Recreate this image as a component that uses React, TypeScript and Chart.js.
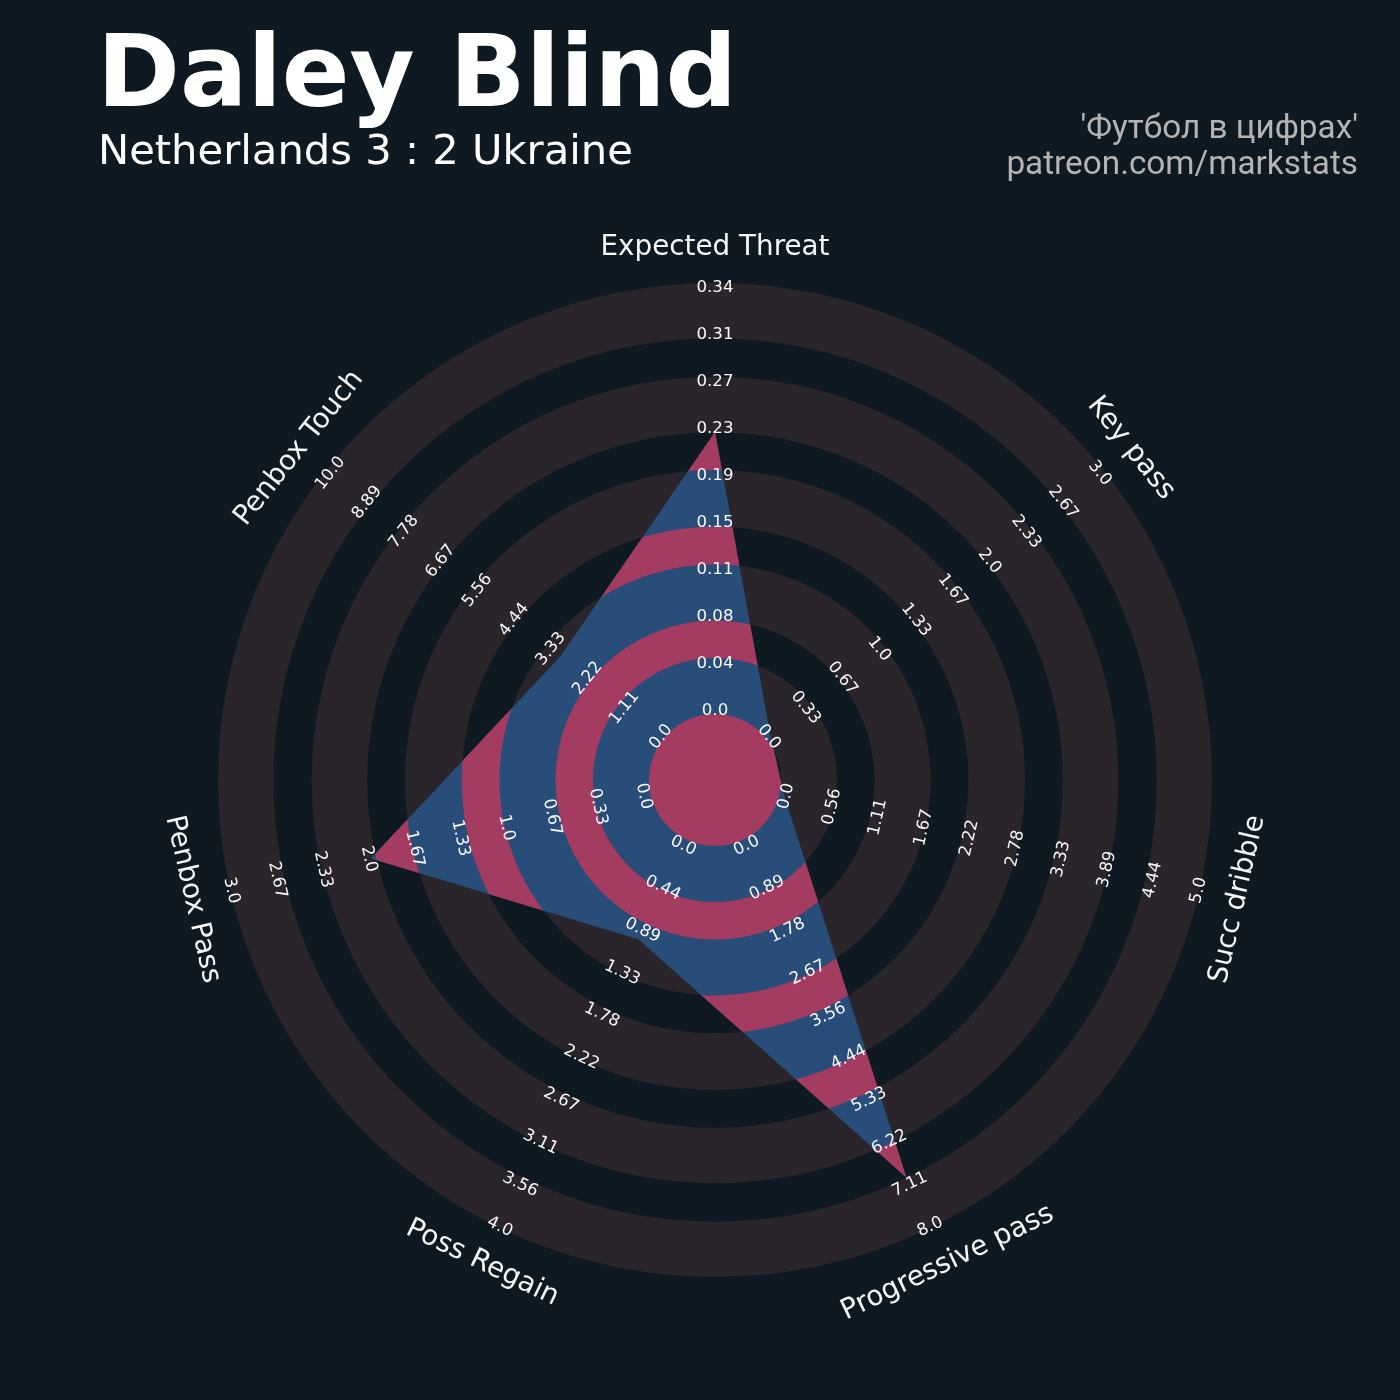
import { useEffect, useRef } from "react";
import { Chart, registerables } from "chart.js";

Chart.register(...registerables);

// ---- data ----
const PARAMS = [
  "Expected Threat",
  "Key pass",
  "Succ dribble",
  "Progressive pass",
  "Poss Regain",
  "Penbox Pass",
  "Penbox Touch",
];
const VALUES = [0.226, 0, 0, 7, 1, 2, 3];
const RANGE_MAX = [0.345, 3, 5, 8, 4, 3, 10];

const TICKS_XT = ["0.0", "0.04", "0.08", "0.11", "0.15", "0.19", "0.23", "0.27", "0.31", "0.34"];
const TICKS_KEY_PASS = ["0.0", "0.33", "0.67", "1.0", "1.33", "1.67", "2.0", "2.33", "2.67", "3.0"];
const TICKS_DRIBBLE = ["0.0", "0.56", "1.11", "1.67", "2.22", "2.78", "3.33", "3.89", "4.44", "5.0"];
const TICKS_PROG_PASS = ["0.0", "0.89", "1.78", "2.67", "3.56", "4.44", "5.33", "6.22", "7.11", "8.0"];
const TICKS_REGAIN = ["0.0", "0.44", "0.89", "1.33", "1.78", "2.22", "2.67", "3.11", "3.56", "4.0"];
const TICKS_PENBOX_PASS = ["0.0", "0.33", "0.67", "1.0", "1.33", "1.67", "2.0", "2.33", "2.67", "3.0"];
const TICKS_PENBOX_TOUCH = ["0.0", "1.11", "2.22", "3.33", "4.44", "5.56", "6.67", "7.78", "8.89", "10.0"];
const TICK_LABELS = [
  TICKS_XT,
  TICKS_KEY_PASS,
  TICKS_DRIBBLE,
  TICKS_PROG_PASS,
  TICKS_REGAIN,
  TICKS_PENBOX_PASS,
  TICKS_PENBOX_TOUCH,
];

const PLAYER = "Daley Blind";
const MATCH = "Netherlands 3 : 2 Ukraine";
const CREDIT_1 = "'Футбол в цифрах'";
const CREDIT_2 = "patreon.com/markstats";

// ---- style ----
const BG = "#0E1921";
const RING_LIGHT = "#29252B";
const BLUE = "#274D78";
const PINK = "#A43B60";
const TEXT = "#F8F8F8";
const CREDIT_COLOR = "#B4B4B4";
const FONT = '"DejaVu Sans"';

// radial scale range: normalised values 0..1 sit between the centre hole and the rim
const SCALE_MIN = -0.16784;
const SCALE_MAX = 1.00706;
// concentric band edges, as a share of the outer radius
const RING_EDGES = [66, 122, 159.5, 215.5, 253.3, 310, 347.8, 403.3, 441.7, 497].map((v) => v / 497);

function annulus(ctx: CanvasRenderingContext2D, cx: number, cy: number, r1: number, r2: number) {
  ctx.beginPath();
  ctx.arc(cx, cy, r2, 0, Math.PI * 2);
  if (r1 > 0) {
    ctx.moveTo(cx + r1, cy);
    ctx.arc(cx, cy, r1, 0, Math.PI * 2, true);
  }
  ctx.fill("evenodd");
}

const radarDecor = {
  id: "radarDecor",
  beforeDatasetsDraw(chart: any) {
    const s = chart.scales.r;
    const ctx: CanvasRenderingContext2D = chart.ctx;
    const cx = s.xCenter;
    const cy = s.yCenter;
    const R = s.drawingArea;
    ctx.save();
    ctx.fillStyle = RING_LIGHT;
    annulus(ctx, cx, cy, 0, R);
    ctx.fillStyle = BG;
    annulus(ctx, cx, cy, 0, RING_EDGES[0] * R);
    for (const k of [1, 3, 5, 7]) {
      annulus(ctx, cx, cy, RING_EDGES[k] * R, RING_EDGES[k + 1] * R);
    }
    ctx.restore();
  },
  afterDatasetsDraw(chart: any) {
    const s = chart.scales.r;
    const ctx: CanvasRenderingContext2D = chart.ctx;
    const cx = s.xCenter;
    const cy = s.yCenter;
    const R = s.drawingArea;
    const pts = chart.getDatasetMeta(0).data;
    ctx.save();
    ctx.beginPath();
    pts.forEach((p: any, i: number) => (i === 0 ? ctx.moveTo(p.x, p.y) : ctx.lineTo(p.x, p.y)));
    ctx.closePath();
    ctx.clip();
    ctx.fillStyle = PINK;
    annulus(ctx, cx, cy, 0, RING_EDGES[0] * R);
    for (const k of [1, 3, 5, 7]) {
      annulus(ctx, cx, cy, RING_EDGES[k] * R, RING_EDGES[k + 1] * R);
    }
    ctx.restore();
  },
  afterDraw(chart: any) {
    const s = chart.scales.r;
    const ctx: CanvasRenderingContext2D = chart.ctx;
    const cy = s.yCenter;
    ctx.save();
    ctx.fillStyle = TEXT;
    ctx.textAlign = "center";
    ctx.textBaseline = "middle";
    const labelDist = s.getDistanceFromCenterForValue(1) + 40;
    PARAMS.forEach((name, i) => {
      let rot = s.getIndexAngle(i);
      const rim = s.getPointPositionForValue(i, 1);
      // keep text upright on the lower half
      if (rim.y > cy + 0.5) rot -= Math.PI;
      const ticks = TICK_LABELS[i];
      ctx.font = `16.67px ${FONT}`;
      ticks.forEach((t, k) => {
        const p = s.getPointPositionForValue(i, k / (ticks.length - 1));
        ctx.save();
        ctx.translate(p.x, p.y);
        ctx.rotate(rot);
        ctx.fillText(t, 0, 2);
        ctx.restore();
      });
      const lp = s.getPointPosition(i, labelDist);
      ctx.font = `27.8px ${FONT}`;
      ctx.save();
      ctx.translate(lp.x, lp.y);
      ctx.rotate(rot);
      ctx.fillText(name, 0, 2);
      ctx.restore();
    });

    // header
    ctx.textAlign = "left";
    ctx.textBaseline = "alphabetic";
    ctx.fillStyle = "#FFFFFF";
    ctx.font = `bold 100px ${FONT}`;
    ctx.fillText(PLAYER, 97, 106);
    ctx.font = `41.67px ${FONT}`;
    ctx.fillText(MATCH, 98, 164);
    ctx.textAlign = "right";
    ctx.fillStyle = CREDIT_COLOR;
    ctx.font = "33.3px Roboto";
    ctx.fillText(CREDIT_1, 1358, 138);
    ctx.fillText(CREDIT_2, 1358, 174);
    ctx.restore();
  },
};

export default function App() {
  const ref = useRef<HTMLCanvasElement | null>(null);

  useEffect(() => {
    const canvas = ref.current;
    if (!canvas) return;
    const data = VALUES.map((v, i) => v / RANGE_MAX[i]);
    const chart = new Chart(canvas, {
      type: "radar",
      data: {
        labels: PARAMS,
        datasets: [
          {
            data,
            backgroundColor: BLUE,
            borderWidth: 0,
            pointRadius: 0,
            pointHoverRadius: 0,
            fill: "start",
          },
        ],
      },
      options: {
        animation: false,
        responsive: false,
        maintainAspectRatio: false,
        devicePixelRatio: 1,
        layout: { padding: { left: 218, right: 188, top: 283, bottom: 123 } },
        plugins: {
          legend: { display: false },
          tooltip: { enabled: false },
        },
        elements: { line: { tension: 0 } },
        scales: {
          r: {
            min: SCALE_MIN,
            max: SCALE_MAX,
            startAngle: 0,
            beginAtZero: false,
            ticks: { display: false },
            grid: { display: false },
            angleLines: { display: false },
            pointLabels: { display: false },
          },
        },
      },
      plugins: [radarDecor],
    } as any);
    return () => chart.destroy();
  }, []);

  return (
    <div
      style={{
        position: "absolute",
        left: 0,
        top: 0,
        width: 1400,
        height: 1400,
        background: BG,
      }}
    >
      <canvas ref={ref} width={1400} height={1400} style={{ width: 1400, height: 1400, display: "block" }} />
    </div>
  );
}
